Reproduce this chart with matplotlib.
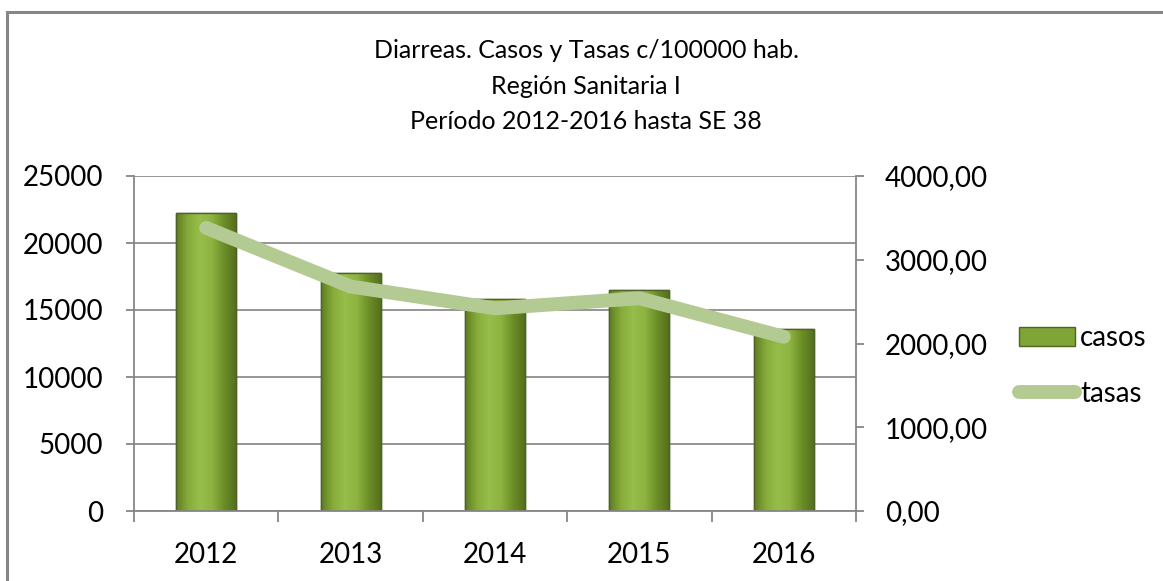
import numpy as np
import matplotlib
matplotlib.use("Agg")
import matplotlib.pyplot as plt
from matplotlib.colors import LinearSegmentedColormap
from matplotlib.patches import Rectangle, Patch
from matplotlib.lines import Line2D
from matplotlib.ticker import FuncFormatter

# data
years = ["2012", "2013", "2014", "2015", "2016"]
casos = [22240, 17760, 15800, 16480, 13580]
tasas = [3380, 2680, 2420, 2540, 2080]

title_lines = ["Diarreas. Casos y Tasas c/100000 hab.",
               "Región Sanitaria I",
               "Período 2012-2016 hasta SE 38"]

plt.rcParams["font.family"] = ["Lato", "DejaVu Sans"]

AXIS_GREY = "#868686"
GRID_GREY = "#8c8c8c"
BAR_EDGE = "#4F6228"
LINE_COLOR = "#B3CB92"
bar_cmap = LinearSegmentedColormap.from_list(
    "cyl", ["#5E7C22", "#86AB3A", "#97BD4A", "#8DB340", "#6C8E28", "#556F1E"])

W, H = 1163, 581
fig = plt.figure(figsize=(W / 100, H / 100), dpi=100)

# outer chart frame (clipped by the image on right / bottom)
fig.patches.append(Rectangle((6.5 / W, -0.05), 1.2, 1 - 12.5 / H + 0.05,
                             transform=fig.transFigure, fill=False,
                             edgecolor=AXIS_GREY, linewidth=2.2))

ax = fig.add_axes([134 / W, 1 - 511 / H, (856 - 134) / W, (511 - 176) / H])
x = np.arange(len(years))

bars = ax.bar(x, casos, width=0.415, color="#8DB340", edgecolor=BAR_EDGE,
              linewidth=1.0, zorder=2)
grad = np.linspace(0, 1, 256).reshape(1, -1)
for b in bars:
    bx, by = b.get_x(), b.get_y()
    bw, bh = b.get_width(), b.get_height()
    im = ax.imshow(grad, cmap=bar_cmap, aspect="auto", zorder=2.1,
                   extent=(bx, bx + bw, by, by + bh), interpolation="bilinear")
    im.set_clip_path(b)
    ax.add_patch(Rectangle((bx, by), bw, bh, fill=False, edgecolor=BAR_EDGE,
                           linewidth=1.0, zorder=2.2))

ax.set_xlim(-0.5, len(years) - 0.5)
ax.set_ylim(0, 25000)
ax.set_yticks(np.arange(0, 25001, 5000))
ax.set_xticks(x)
ax.set_xticklabels(years)
ax.set_xticks(np.arange(-0.5, len(years), 1), minor=True)
ax.yaxis.grid(True, color=GRID_GREY, linewidth=1.3, zorder=0)
ax.set_axisbelow(True)

for s in ["top", "right"]:
    ax.spines[s].set_visible(False)
ax.spines["left"].set_color(AXIS_GREY)
ax.spines["bottom"].set_color(AXIS_GREY)
ax.spines["left"].set_linewidth(1.3)
ax.spines["bottom"].set_linewidth(1.3)
ax.tick_params(axis="y", direction="out", length=6, width=1.3, color=AXIS_GREY,
               labelsize=20, pad=16)
ax.tick_params(axis="x", which="major", length=0, labelsize=20, pad=22)
ax.tick_params(axis="x", which="minor", direction="out", length=8, width=1.3,
               color=AXIS_GREY)

ax2 = ax.twinx()
ax2.plot(x, tasas, color=LINE_COLOR, linewidth=10, solid_capstyle="round",
         solid_joinstyle="round", zorder=3)
ax2.set_ylim(0, 4000)
ax2.set_yticks(np.arange(0, 4001, 1000))
ax2.yaxis.set_major_formatter(FuncFormatter(lambda v, p: f"{v:.2f}".replace(".", ",")))
for s in ["top", "left", "bottom"]:
    ax2.spines[s].set_visible(False)
ax2.spines["right"].set_color(AXIS_GREY)
ax2.spines["right"].set_linewidth(1.3)
ax2.tick_params(axis="y", direction="out", length=6, width=1.3, color=AXIS_GREY,
                labelsize=20, pad=15)

# three-line title, baselines as in the reference
for line, base in zip(title_lines, [58, 94, 129]):
    fig.text(586 / W, 1 - base / H, line, ha="center", va="baseline",
             fontsize=18)

handles = [Patch(facecolor="#7FA536", edgecolor=BAR_EDGE, linewidth=1.0),
           Line2D([], [], color=LINE_COLOR, linewidth=10, solid_capstyle="round")]
fig.legend(handles, ["casos", "tasas"], loc="center left",
           bbox_to_anchor=(1008 / W, 1 - 366 / H), frameon=False, fontsize=20,
           handlelength=2.0, handletextpad=0.2, labelspacing=1.05,
           borderaxespad=0)

fig.savefig("out.png", dpi=100)
